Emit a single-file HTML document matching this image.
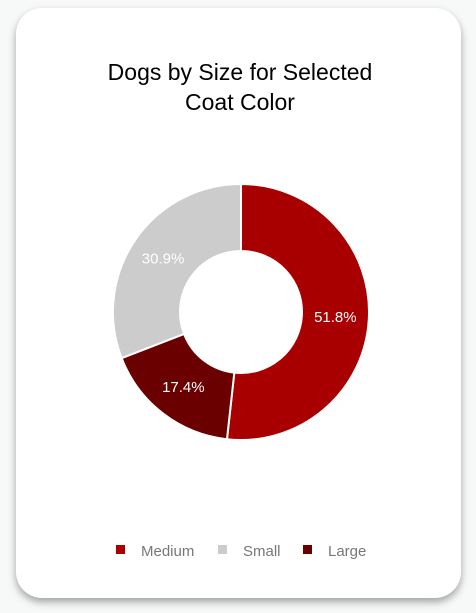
<!DOCTYPE html>
<html><head><meta charset="utf-8"><style>
body{margin:0;width:476px;height:613px;background:#f7f8f8;font-family:"Liberation Sans",Arial,sans-serif;overflow:hidden}
#card{position:absolute;left:16px;top:8px;width:445px;height:590px;background:#fff;border-radius:26px;box-shadow:0 4px 8px rgba(0,0,0,0.35)}
</style></head><body>
<div id="card">
<svg width="445" height="590" viewBox="16 8 445 590">
<text x="240" y="80" text-anchor="middle" font-size="23" fill="#000">Dogs by Size for Selected</text>
<text x="240" y="110" text-anchor="middle" font-size="23" fill="#000">Coat Color</text>
<g id="slices"></g>
<g id="legend"></g>
</svg>
</div>
<script>
const categories=["Medium","Large","Small"];
const values=[51.8,17.4,30.9];
const labels=["51.8%","17.4%","30.9%"];
const colors=["#a80000","#6b0000","#cccccc"];
const legendOrder=["Medium","Small","Large"];
const NS="http://www.w3.org/2000/svg";
const cx=241,cy=312,R=128,r=61;
const total=values.reduce((a,b)=>a+b,0);
const g=document.getElementById('slices');
function pt(a,rad){return [cx+rad*Math.sin(a),cy-rad*Math.cos(a)];}
let a0=0;
values.forEach((v,i)=>{
  const a1=a0+v/total*2*Math.PI;
  const large=(a1-a0)>Math.PI?1:0;
  const p1=pt(a0,R),p2=pt(a1,R),p3=pt(a1,r),p4=pt(a0,r);
  const p=document.createElementNS(NS,'path');
  p.setAttribute('d',`M${p1}A${R},${R} 0 ${large} 1 ${p2}L${p3}A${r},${r} 0 ${large} 0 ${p4}Z`);
  p.setAttribute('fill',colors[i]);p.setAttribute('stroke','#fff');p.setAttribute('stroke-width','2');
  
  
  g.appendChild(p);
  const m=(a0+a1)/2,lp=pt(m,(R+r)/2);
  const t=document.createElementNS(NS,'text');
  t.setAttribute('x',lp[0]);t.setAttribute('y',lp[1]+5);t.setAttribute('text-anchor','middle');
  t.setAttribute('font-size','15');t.setAttribute('fill','#fff');t.textContent=labels[i];
  
  
  g.appendChild(t);
  a0=a1;
});
const lg=document.getElementById('legend');
const lx=[116,218,303];
legendOrder.forEach((c,i)=>{
  const idx=categories.indexOf(c);
  const s=document.createElementNS(NS,'rect');
  s.setAttribute('x',lx[i]);s.setAttribute('y',545);s.setAttribute('width',9);s.setAttribute('height',9);
  s.setAttribute('fill',colors[idx]);
  
  
  lg.appendChild(s);
  const t=document.createElementNS(NS,'text');
  t.setAttribute('x',lx[i]+25);t.setAttribute('y',556);t.setAttribute('font-size','15');t.setAttribute('fill','#777');
  t.textContent=c;
  
  
  lg.appendChild(t);
});
</script>
</body></html>
